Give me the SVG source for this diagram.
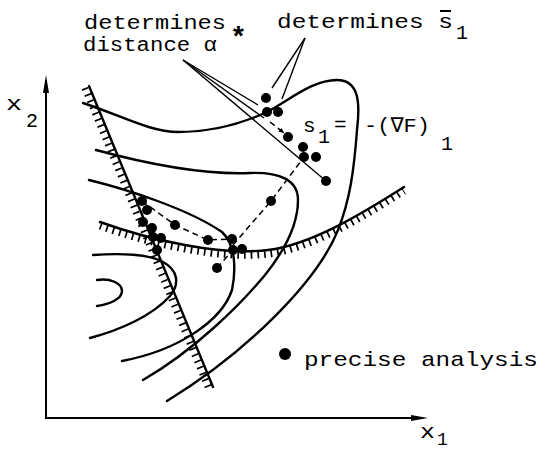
<svg xmlns="http://www.w3.org/2000/svg" width="541" height="451" viewBox="0 0 541 451">
<defs>
<style>
.t{font-family:"Liberation Mono","Courier New",monospace;font-size:21px;fill:#000}
.a{font-family:"Liberation Mono","Courier New",monospace;font-size:19.5px;fill:#000}
.s{font-family:"Liberation Mono","Courier New",monospace;font-size:20px;fill:#000}
.c{fill:none;stroke:#000;stroke-width:2.4;stroke-linecap:round}
.ax{fill:none;stroke:#000;stroke-width:2}
.ld{fill:none;stroke:#000;stroke-width:1.4}
.ds{fill:none;stroke:#000;stroke-width:1.5;stroke-dasharray:6 4}
.h{fill:none;stroke:#000;stroke-width:7;stroke-dasharray:1.7 5}
.d{fill:#000}
</style>
<marker id="ah" viewBox="0 0 10 10" refX="9" refY="5" markerWidth="6" markerHeight="6" orient="auto" markerUnits="userSpaceOnUse">
<path d="M0,1 L10,5 L0,9 Z" fill="#000"/>
</marker>
</defs>
<rect width="541" height="451" fill="#fff"/>

<g id="axes">
<path class="ax" d="M46,80 L46,418 L414,418"/>
<path d="M46,75 L43,93 L49,93 Z" fill="#000"/>
<path d="M428,418 L411,415 L411,421 Z" fill="#000"/>
<text class="t" x="6" y="110" textLength="16" lengthAdjust="spacingAndGlyphs">x</text>
<text class="s" x="26" y="127">2</text>
<text class="t" x="420" y="438" textLength="15" lengthAdjust="spacingAndGlyphs">x</text>
<text class="s" x="437" y="445" style="font-size:18px">1</text>
</g>

<g id="contours">
<path class="c" d="M83,103 C120,115 150,132 178,132 C215,132 245,122 267,112 C290,100 312,80 337,80 C360,80 360,105 357,130 C354,170 350,200 338,230 C318,280 250,350 167,401"/>
<path class="c" d="M96,150 C140,162 200,175 250,173 C280,172 298,180 298,200 C298,225 285,250 265,275 C240,305 195,350 143,380"/>
<path class="c" d="M89,180 C130,190 190,210 222,232 C236,245 236,270 232,290 C222,320 180,350 122,361"/>
<path class="c" d="M93,255 C120,253 150,254 163,262 C178,270 180,284 170,296 C152,316 120,330 90,338"/>
<path class="c" d="M97,280 C110,278 122,283 122,291 C122,299 110,304 97,306"/>
</g>

<g id="constraint-a">
<path class="c" d="M89,86 L213,387"/>
<path class="h" d="M89,88 L213,389" transform="translate(-4,0)"/>
</g>

<g id="constraint-b">
<path class="c" d="M100,222 C150,240 220,256 268,250 C310,245 360,215 404,187"/>
<path class="h" d="M100,222 C150,240 220,256 268,250 C310,245 360,215 404,187" transform="translate(0,4)"/>
</g>

<g id="connectors">
<path class="ds" d="M142,201 L175,225 L208,240 L231,239"/>
<path class="ds" d="M233,245 L271,201 L304,157"/>
<path class="ds" d="M217,268 L233,250"/>
<path class="ld" d="M183,60 L258,105"/>
<path class="ld" d="M183,60 L264,118"/>
<path class="ds" d="M270,122 L284,133" marker-end="url(#ah)"/>
<path class="ld" d="M183,60 L326,181"/>
<path class="ld" d="M305,38 L272,88"/>
<path class="ld" d="M305,38 L282,99"/>
</g>

<g id="points">
<circle class="d" cx="266" cy="98" r="5"/>
<circle class="d" cx="267" cy="112" r="5"/>
<circle class="d" cx="278" cy="112" r="5"/>
<circle class="d" cx="288" cy="137" r="5"/>
<circle class="d" cx="303" cy="147" r="5"/>
<circle class="d" cx="304" cy="157" r="5"/>
<circle class="d" cx="316" cy="157" r="5"/>
<circle class="d" cx="326" cy="181" r="5"/>
<circle class="d" cx="271" cy="201" r="5"/>
<circle class="d" cx="232" cy="239" r="5"/>
<circle class="d" cx="142" cy="201" r="5"/>
<circle class="d" cx="147" cy="210" r="5"/>
<circle class="d" cx="143" cy="222" r="5"/>
<circle class="d" cx="152" cy="228" r="5"/>
<circle class="d" cx="153" cy="237" r="5"/>
<circle class="d" cx="161" cy="238" r="5"/>
<circle class="d" cx="157" cy="250" r="5"/>
<circle class="d" cx="175" cy="225" r="5"/>
<circle class="d" cx="208" cy="240" r="5"/>
<circle class="d" cx="233" cy="250" r="5"/>
<circle class="d" cx="242" cy="249" r="5"/>
<circle class="d" cx="217" cy="268" r="5"/>
</g>

<g id="label-alpha">
<text class="a" x="84" y="29" textLength="142" lengthAdjust="spacingAndGlyphs">determines</text>
<text class="t" x="230" y="46" style="font-size:28px;font-weight:bold">*</text>
<text class="a" x="83" y="51" textLength="134" lengthAdjust="spacingAndGlyphs">distance α</text>
</g>

<g id="label-s1bar">
<text class="t" x="277" y="28" textLength="176" lengthAdjust="spacingAndGlyphs">determines s</text>
<line x1="440" y1="11" x2="451" y2="11" stroke="#000" stroke-width="2"/>
<text class="s" x="456" y="39">1</text>
</g>

<g id="label-gradient">
<text class="t" x="303" y="132">s</text>
<text class="s" x="318" y="143">1</text>
<text class="t" x="334" y="131">=</text>
<text class="t" x="364" y="132" textLength="66" lengthAdjust="spacingAndGlyphs">-(∇F)</text>
<text class="s" x="441" y="150">1</text>
</g>

<g id="legend">
<circle class="d" cx="285" cy="354" r="6"/>
<text class="t" x="304" y="366" textLength="234" lengthAdjust="spacingAndGlyphs">precise analysis</text>
</g>
</svg>
